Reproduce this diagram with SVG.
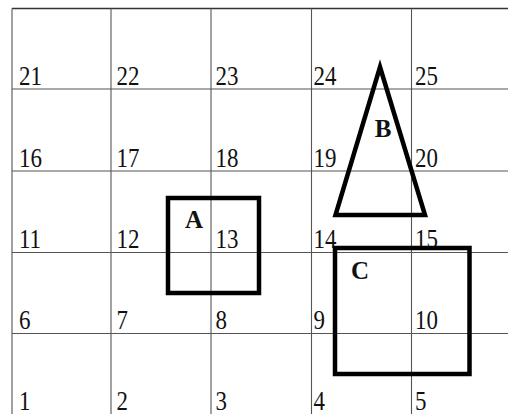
<svg xmlns="http://www.w3.org/2000/svg" width="508" height="414" viewBox="0 0 508 414">
<style>
.grid{stroke:#555;stroke-width:1.1;fill:none}
.num{font-family:"Liberation Serif",serif;font-size:27px;fill:#111}
.shape{fill:none;stroke:#000;stroke-width:4.5;stroke-linejoin:miter}
.lbl{font-family:"Liberation Serif",serif;font-size:25px;font-weight:bold;fill:#111;text-anchor:middle}
</style>
<rect width="508" height="414" fill="#fff"/>
<g id="grid">
<line class="grid" x1="12" y1="8.5" x2="508" y2="8.5" style="stroke:#333;stroke-width:1.5"/>
<line class="grid" x1="12" y1="89" x2="508" y2="89"/>
<line class="grid" x1="12" y1="171" x2="508" y2="171"/>
<line class="grid" x1="12" y1="252.5" x2="508" y2="252.5"/>
<line class="grid" x1="12" y1="333.5" x2="508" y2="333.5"/>
<line class="grid" x1="12" y1="8.5" x2="12" y2="414"/>
<line class="grid" x1="111" y1="8.5" x2="111" y2="414"/>
<line class="grid" x1="211" y1="8.5" x2="211" y2="414"/>
<line class="grid" x1="311.5" y1="8.5" x2="311.5" y2="414"/>
<line class="grid" x1="411.5" y1="8.5" x2="411.5" y2="414"/>
</g>
<g id="numbers" transform="scale(0.85,1)">
<text class="num" x="22.3" y="85">21</text>
<text class="num" x="137.1" y="85">22</text>
<text class="num" x="253.5" y="85">23</text>
<text class="num" x="368.8" y="85">24</text>
<text class="num" x="488.2" y="85">25</text>
<text class="num" x="22.3" y="167">16</text>
<text class="num" x="137.1" y="167">17</text>
<text class="num" x="253.5" y="167">18</text>
<text class="num" x="368.8" y="167">19</text>
<text class="num" x="488.2" y="167">20</text>
<text class="num" x="22.3" y="248.5">11</text>
<text class="num" x="137.1" y="248.5">12</text>
<text class="num" x="253.5" y="248.5">13</text>
<text class="num" x="368.8" y="248.5">14</text>
<text class="num" x="488.2" y="248.5">15</text>
<text class="num" x="22.3" y="329">6</text>
<text class="num" x="137.1" y="329">7</text>
<text class="num" x="253.5" y="329">8</text>
<text class="num" x="368.8" y="329">9</text>
<text class="num" x="488.2" y="329">10</text>
<text class="num" x="22.3" y="410">1</text>
<text class="num" x="137.1" y="410">2</text>
<text class="num" x="253.5" y="410">3</text>
<text class="num" x="368.8" y="410">4</text>
<text class="num" x="488.2" y="410">5</text>
</g>
<g id="A">
<rect class="shape" x="168" y="198" width="91" height="95"/>
<text class="lbl" x="194" y="228">A</text>
</g>
<g id="B">
<polygon class="shape" points="380,67 425,215 335.5,215"/>
<text class="lbl" x="383" y="137">B</text>
</g>
<g id="C">
<rect class="shape" x="335" y="248" width="134.5" height="126"/>
<text class="lbl" x="360" y="279">C</text>
</g>
</svg>
